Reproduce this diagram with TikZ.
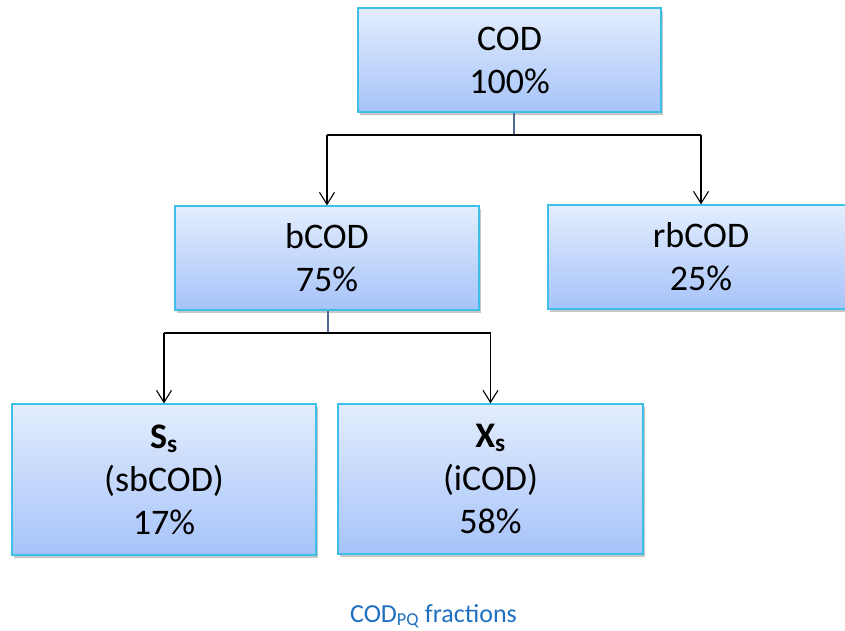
\documentclass[tikz,border=0pt]{standalone}
\usepackage{fontspec}
\setmainfont{Carlito}
\usetikzlibrary{arrows.meta,shadows}
\definecolor{boxtop}{HTML}{E3EDFD}
\definecolor{boxbot}{HTML}{A6C3F9}
\definecolor{boxline}{HTML}{3CC0E8}
\definecolor{stemcol}{HTML}{4F6B8F}
\definecolor{capblue}{HTML}{1F70C1}
\tikzset{
  fbox/.style={draw=boxline, line width=1.3pt, top color=boxtop, bottom color=boxbot,
    align=center, inner sep=0pt, font=\fontsize{36}{43}\selectfont,
    drop shadow={shadow xshift=2pt, shadow yshift=-3pt, opacity=0.22, fill=black}},
  stemline/.style={draw=stemcol, line width=1.2pt},
  busline/.style={draw=black, line width=1.1pt},
  arr/.style={draw=black, line width=1.1pt, -{Straight Barb[length=12pt,width=15pt]}},
}
\begin{document}
\begin{tikzpicture}[x=1pt,y=-1pt]
\useasboundingbox[fill=white] (0,0) rectangle (845,630);
\node[fbox, minimum width=303pt, minimum height=104pt] (cod) at (509.5,60) {COD\\100\%};
\node[fbox, minimum width=304pt, minimum height=104pt] (bcod) at (327,258) {bCOD\\75\%};
\node[fbox, minimum width=306pt, minimum height=104pt] (rbcod) at (701,257) {rbCOD\\25\%};
\node[fbox, minimum width=304pt, minimum height=151pt] (ss) at (164,479.5) {\textbf{S\textsubscript{s}}\\(sbCOD)\\17\%};
\node[fbox, minimum width=305pt, minimum height=150pt] (xs) at (490.5,479) {\textbf{X\textsubscript{s}}\\(iCOD)\\58\%};
\coordinate (j1) at (514,135);
\coordinate (j2) at (328,333);
\draw[stemline] (cod.south -| j1) -- (j1);
\draw[busline] (j1 -| bcod.north) -- (j1 -| rbcod.north);
\draw[arr] (j1 -| bcod.north) -- (bcod.north);
\draw[arr] (j1 -| rbcod.north) -- (rbcod.north);
\draw[stemline] (bcod.south -| j2) -- (j2);
\draw[busline] (j2 -| ss.north) -- (j2 -| xs.north);
\draw[arr] (j2 -| ss.north) -- (ss.north);
\draw[arr] (j2 -| xs.north) -- (xs.north);
\node[anchor=base, text=capblue, font=\fontsize{26}{31}\selectfont] (cap) at (433.5,622) {COD\textsubscript{PQ} fractions};
\end{tikzpicture}
\end{document}
